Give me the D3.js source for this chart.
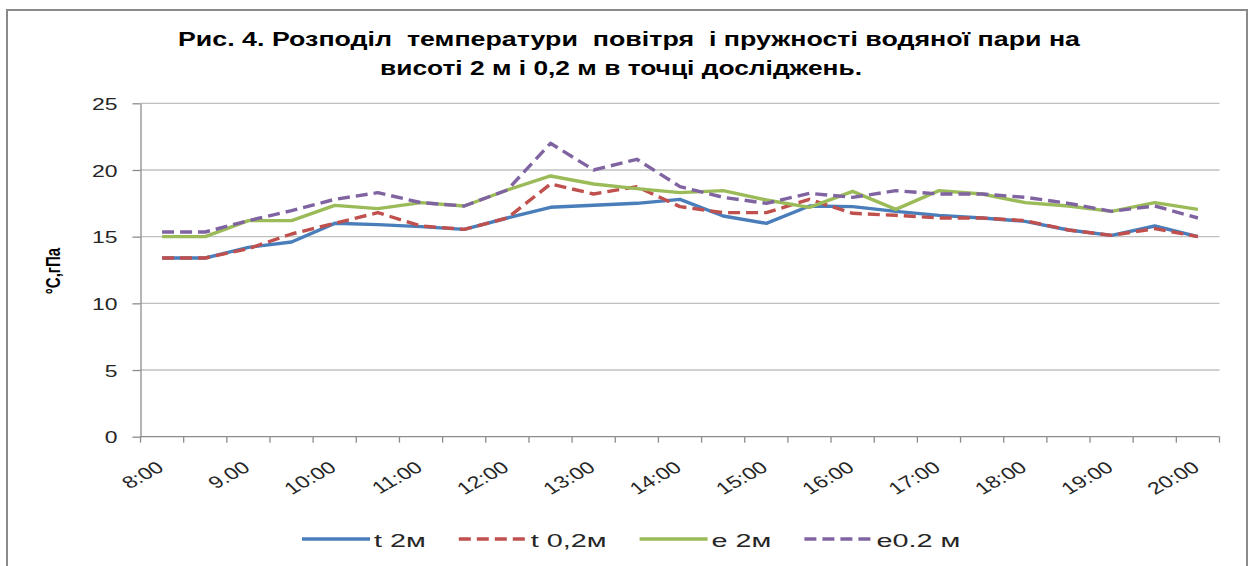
<!DOCTYPE html>
<html>
<head>
<meta charset="utf-8">
<script src="https://cdn.jsdelivr.net/npm/d3@7"></script>
<style>
  html, body { margin: 0; padding: 0; background: #fff; }
  svg { display: block; }
  text { font-family: "Liberation Sans", Arial, sans-serif; }
</style>
</head>
<body>
<svg id="chart" width="1254" height="566"></svg>
<script>
// ---------- data ----------
const titleLines = [
  "Рис. 4. Розподіл  температури  повітря  і пружності водяної пари на",
  "висоті 2 м і 0,2 м в точці досліджень."
];
const yAxisTitle = "°С,гПа";
const categories = ["8:00","8:30","9.00","9:30","10:00","10:30","11:00","11:30","12:00","12:30",
  "13:00","13:30","14:00","14:30","15:00","15:30","16:00","16:30","17:00","17:30",
  "18:00","18:30","19:00","19:30","20:00"];
const shownLabels = ["8:00","9.00","10:00","11:00","12:00","13:00","14:00","15:00","16:00","17:00","18:00","19:00","20:00"];
const yTicks = [0, 5, 10, 15, 20, 25];
const seriesNames = ["t 2м", "t 0,2м", "e 2м", "e0.2 м"];
const t2 = [13.4, 13.4, 14.2, 14.6, 16.0, 15.9, 15.75, 15.55, 16.4, 17.2, 17.35, 17.5, 17.8,
  16.55, 16.0, 17.3, 17.25, 16.9, 16.6, 16.4, 16.15, 15.5, 15.1, 15.8, 15.0];
const t02 = [13.4, 13.4, 14.1, 15.2, 16.0, 16.8, 15.8, 15.55, 16.4, 18.95, 18.2, 18.75, 17.25,
  16.8, 16.8, 17.8, 16.75, 16.6, 16.4, 16.4, 16.2, 15.5, 15.1, 15.6, 15.0];
const e2 = [15.0, 15.0, 16.2, 16.2, 17.35, 17.1, 17.55, 17.3, 18.5, 19.55, 18.95, 18.6, 18.3,
  18.45, 17.75, 17.2, 18.4, 17.05, 18.45, 18.2, 17.55, 17.3, 16.9, 17.55, 17.05];
const e02 = [15.35, 15.35, 16.2, 16.95, 17.8, 18.3, 17.55, 17.3, 18.5, 22.0, 20.0, 20.8, 18.75,
  17.95, 17.5, 18.25, 17.95, 18.45, 18.2, 18.2, 17.95, 17.5, 16.9, 17.3, 16.4];

// ---------- styles ----------
const seriesValues = [t2, t02, e2, e02];
const colors = ["#4A7EBB", "#C0504D", "#9BBB59", "#8064A2"];
const dashes = [null, "12,6", null, "12,6"];

const svg = d3.select("#chart");
const pLeft = 140.5, pRight = 1219.5, pTop = 103.3, pBottom = 436.7;

// border
svg.append("rect").attr("x", 7).attr("y", 10).attr("width", 1240).attr("height", 580)
  .attr("fill", "none").attr("stroke", "#8a8a8a").attr("stroke-width", 2);

// scales
const x = d3.scaleBand().domain(categories).range([pLeft, pRight]).paddingInner(0).paddingOuter(0);
const y = d3.scaleLinear().domain([0, 25]).range([pBottom, pTop]);
const cx = c => x(c) + x.bandwidth() / 2;

// gridlines
svg.append("g").selectAll("line").data(yTicks.filter(v => v > 0)).join("line")
  .attr("x1", pLeft).attr("x2", pRight).attr("y1", d => y(d)).attr("y2", d => y(d))
  .attr("stroke", "#c0c0c0").attr("stroke-width", 1.3);

// y axis
const yAxis = svg.append("g").attr("transform", `translate(${pLeft},0)`)
  .call(d3.axisLeft(y).tickValues(yTicks).tickSize(8).tickSizeOuter(0));
yAxis.select(".domain").attr("stroke", "#8c8c8c").attr("stroke-width", 1.3);
yAxis.selectAll(".tick line").attr("stroke", "#8c8c8c").attr("stroke-width", 1.3);
yAxis.selectAll(".tick text")
  .attr("x", null).attr("dy", "0.36em")
  .attr("transform", "translate(-23,0) scale(1.35,1)")
  .attr("font-size", 17).attr("fill", "#262626")
  .attr("font-family", "Liberation Sans, Arial, sans-serif");

// x axis line + ticks at band boundaries
svg.append("line").attr("x1", pLeft).attr("x2", pRight).attr("y1", pBottom).attr("y2", pBottom)
  .attr("stroke", "#8c8c8c").attr("stroke-width", 1.3);
const boundaries = categories.map(c => x(c)).concat([x.range()[1]]);
svg.append("g").selectAll("line").data(boundaries).join("line")
  .attr("x1", d => d).attr("x2", d => d).attr("y1", pBottom).attr("y2", pBottom + 6)
  .attr("stroke", "#8c8c8c").attr("stroke-width", 1.3);

// x labels
svg.append("g").selectAll("text").data(shownLabels).join("text")
  .attr("transform", d => `translate(${cx(d) + 3},${pBottom + 33}) scale(1.35,1) rotate(-37)`)
  .attr("text-anchor", "end")
  .attr("font-size", 17).attr("fill", "#262626")
  .text(d => d);

// lines
const line = d3.line().x((d, i) => cx(categories[i])).y(d => y(d));
seriesValues.forEach((vals, k) => {
  svg.append("path").datum(vals)
    .attr("d", line)
    .attr("fill", "none")
    .attr("stroke", colors[k])
    .attr("stroke-width", 3.4)
    .attr("stroke-linejoin", "round")
    .attr("stroke-dasharray", dashes[k]);
});

// title
const titleMeta = [{ x: 178, y: 46, w: 902 }, { x: 380, y: 75, w: 482 }];
svg.append("g").selectAll("text").data(titleLines).join("text")
  .attr("x", (d, i) => titleMeta[i].x).attr("y", (d, i) => titleMeta[i].y)
  .attr("textLength", (d, i) => titleMeta[i].w).attr("lengthAdjust", "spacingAndGlyphs")
  .attr("font-size", 20).attr("font-weight", "bold").attr("fill", "#000")
  .style("white-space", "pre")
  .text(d => d);

// y axis title
svg.append("text")
  .attr("transform", "translate(60,271) scale(1.3,1) rotate(-90)")
  .attr("text-anchor", "middle")
  .attr("font-size", 15).attr("font-weight", "bold").attr("fill", "#000")
  .text(yAxisTitle);

// legend
const legend = svg.append("g");
let lx = 302;
const ly = 539;
seriesNames.forEach((name, k) => {
  legend.append("line").attr("x1", lx).attr("x2", lx + 68).attr("y1", ly).attr("y2", ly)
    .attr("stroke", colors[k]).attr("stroke-width", 3.4).attr("stroke-dasharray", dashes[k]);
  const t = legend.append("text")
    .attr("transform", `translate(${lx + 72},${ly + 8}) scale(1.6,1)`)
    .attr("font-size", 18).attr("fill", "#262626")
    .text(name);
  const w = t.node().getComputedTextLength() * 1.6;
  lx = lx + 72 + w + 33;
});
</script>
</body>
</html>
